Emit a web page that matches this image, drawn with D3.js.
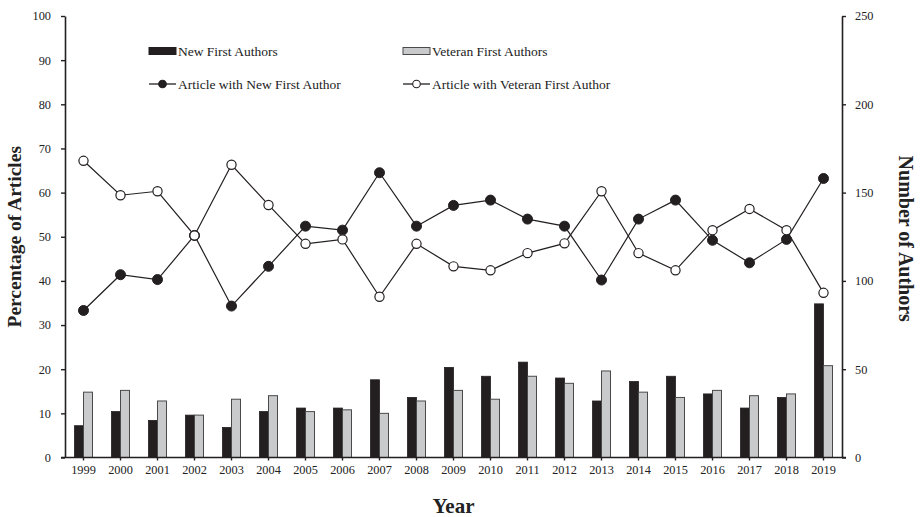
<!DOCTYPE html>
<html>
<head>
<meta charset="utf-8">
<script src="https://cdn.jsdelivr.net/npm/d3@7/dist/d3.min.js"></script>
<style>
  html, body { margin: 0; padding: 0; background: #fff; }
  svg { display: block; font-family: "Liberation Serif", "Times New Roman", serif; }
</style>
</head>
<body>
<svg id="chart" width="920" height="517"></svg>
<script>
// Years on the x axis
const years = ["1999","2000","2001","2002","2003","2004","2005","2006","2007","2008",
               "2009","2010","2011","2012","2013","2014","2015","2016","2017","2018","2019"];

// Number of authors (right axis)
const newAuthors     = [18, 26, 21, 24, 17, 26, 28, 28, 44, 34, 51, 46, 54, 45, 32, 43, 46, 36, 28, 34, 87];
const veteranAuthors = [37, 38, 32, 24, 33, 35, 26, 27, 25, 32, 38, 33, 46, 42, 49, 37, 34, 38, 35, 36, 52];

// Percentage of articles (left axis)
const pctNew     = [33.3, 41.4, 40.3, 50.3, 34.3, 43.3, 52.4, 51.5, 64.5, 52.4, 57.1,
                    58.3, 54.0, 52.4, 40.2, 54.0, 58.3, 49.2, 44.1, 49.4, 63.2];
const pctVeteran = [67.2, 59.4, 60.3, 50.3, 66.3, 57.2, 48.4, 49.4, 36.4, 48.4, 43.3,
                    42.4, 46.3, 48.5, 60.3, 46.3, 42.4, 51.5, 56.3, 51.5, 37.3];

const leftTicks  = [0, 10, 20, 30, 40, 50, 60, 70, 80, 90, 100];
const rightTicks = [0, 50, 100, 150, 200, 250];

const svg = d3.select("#chart");
const ink = "#231f20";
const plotLeft = 65, plotRight = 842, plotTop = 16, plotBottom = 457.5;

const x = d3.scaleBand().domain(years).range([plotLeft, plotRight]).padding(0);
const yPct = d3.scaleLinear().domain([0, 100]).range([plotBottom, plotTop]);
const yAuth = d3.scaleLinear().domain([0, 250]).range([plotBottom, plotTop]);

const barW = 9;

// Bars: new (black) and veteran (grey) first authors
const bars = svg.append("g");
bars.selectAll("rect.new").data(years).join("rect")
  .attr("class", "new")
  .attr("x", d => x(d) + x.bandwidth() / 2 - barW)
  .attr("y", (d, i) => yAuth(newAuthors[i]))
  .attr("width", barW)
  .attr("height", (d, i) => plotBottom - yAuth(newAuthors[i]))
  .attr("fill", ink).attr("stroke", ink).attr("stroke-width", 0.8);
bars.selectAll("rect.vet").data(years).join("rect")
  .attr("class", "vet")
  .attr("x", d => x(d) + x.bandwidth() / 2)
  .attr("y", (d, i) => yAuth(veteranAuthors[i]))
  .attr("width", barW)
  .attr("height", (d, i) => plotBottom - yAuth(veteranAuthors[i]))
  .attr("fill", "#c9cacc").attr("stroke", "#4a4a4a").attr("stroke-width", 1);

// Axes
const axisStyle = g => {
  g.selectAll(".domain").attr("stroke", ink).attr("stroke-width", 1.6);
  g.selectAll(".tick line").attr("stroke", ink).attr("stroke-width", 1.4);
  g.selectAll(".tick text").attr("fill", "#222").attr("font-size", 12.3)
    .attr("font-family", "Liberation Serif, serif");
};

svg.append("g").attr("transform", `translate(${plotLeft},0)`)
  .call(d3.axisLeft(yPct).tickValues(leftTicks).tickSize(4).tickPadding(10).tickSizeOuter(0))
  .call(axisStyle);

svg.append("g").attr("transform", `translate(${plotRight},0)`)
  .call(d3.axisRight(yAuth).tickValues(rightTicks).tickSize(4).tickPadding(9).tickSizeOuter(0))
  .call(axisStyle);

const xAxis = svg.append("g").attr("transform", `translate(0,${plotBottom})`)
  .call(d3.axisBottom(x).tickSize(3).tickPadding(5).tickSizeOuter(0))
  .call(axisStyle);
xAxis.select(".domain").attr("d", `M${plotLeft - 4},0H${plotRight + 4}`);

// Lines with markers
const cx = d => x(d) + x.bandwidth() / 2;
const pctLine = d3.line().x((d, i) => cx(years[i])).y(d => yPct(d));

svg.append("path").datum(pctNew).attr("d", pctLine)
  .attr("fill", "none").attr("stroke", ink).attr("stroke-width", 1.2);
svg.append("path").datum(pctVeteran).attr("d", pctLine)
  .attr("fill", "none").attr("stroke", ink).attr("stroke-width", 1.2);

svg.append("g").selectAll("circle").data(pctNew).join("circle")
  .attr("cx", (d, i) => cx(years[i])).attr("cy", d => yPct(d)).attr("r", 5)
  .attr("fill", ink).attr("stroke", ink).attr("stroke-width", 1);
svg.append("g").selectAll("circle").data(pctVeteran).join("circle")
  .attr("cx", (d, i) => cx(years[i])).attr("cy", d => yPct(d)).attr("r", 4.6)
  .attr("fill", "#fff").attr("stroke", ink).attr("stroke-width", 1.2);

// Legend
const legend = svg.append("g").attr("font-size", 13.5).attr("fill", "#222");
const legItems = [
  { label: "New First Authors", x: 149, y: 51, kind: "bar", fill: ink, stroke: ink },
  { label: "Veteran First Authors", x: 403, y: 51, kind: "bar", fill: "#c9cacc", stroke: "#4a4a4a" },
  { label: "Article with New First Author", x: 149, y: 84, kind: "line", fill: ink },
  { label: "Article with Veteran First Author", x: 403, y: 84, kind: "line", fill: "#fff" }
];
legItems.forEach(it => {
  const g = legend.append("g");
  if (it.kind === "bar") {
    g.append("rect").attr("x", it.x).attr("y", it.y - 3.5).attr("width", 27).attr("height", 7)
      .attr("fill", it.fill).attr("stroke", it.stroke).attr("stroke-width", 1);
  } else {
    g.append("line").attr("x1", it.x).attr("x2", it.x + 27).attr("y1", it.y).attr("y2", it.y)
      .attr("stroke", ink).attr("stroke-width", 1.3);
    g.append("circle").attr("cx", it.x + 13.5).attr("cy", it.y).attr("r", 3.8)
      .attr("fill", it.fill).attr("stroke", ink).attr("stroke-width", 1.1);
  }
  g.append("text").attr("x", it.x + 29).attr("y", it.y + 4.5).text(it.label);
});

// Axis titles
svg.append("text")
  .attr("transform", `translate(21,${(plotTop + plotBottom) / 2}) rotate(-90)`)
  .attr("text-anchor", "middle").attr("font-size", 19.5).attr("font-weight", "bold")
  .attr("fill", "#222").text("Percentage of Articles");
svg.append("text")
  .attr("transform", `translate(899,${(plotTop + plotBottom) / 2 + 2}) rotate(90)`)
  .attr("text-anchor", "middle").attr("font-size", 20).attr("font-weight", "bold")
  .attr("fill", "#222").text("Number of Authors");
svg.append("text")
  .attr("x", (plotLeft + plotRight) / 2).attr("y", 513)
  .attr("text-anchor", "middle").attr("font-size", 21).attr("font-weight", "bold")
  .attr("fill", "#222").text("Year");
</script>
</body>
</html>
